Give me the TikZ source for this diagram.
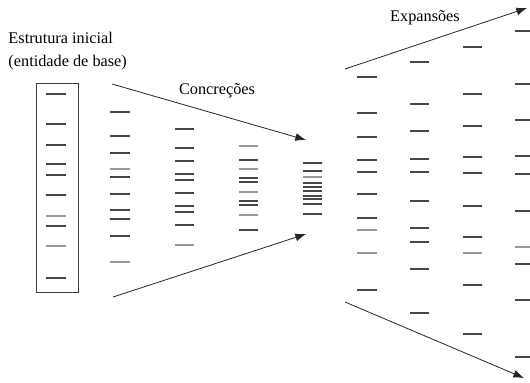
\documentclass[tikz,border=0pt]{standalone}
\usepackage{fontspec}
\setmainfont{Liberation Serif}
\usetikzlibrary{arrows.meta}

\tikzset{every picture/.style={line width=0.75pt}}
\tikzset{
  tick/.style={line width=0.9pt, black!72},
  faint/.style={line width=0.9pt, black!40},
  flow/.style={line width=0.6pt, black!85, -{Latex[length=8pt,width=6pt]}},
  label/.style={font=\fontsize{12.2}{17}\selectfont, inner sep=0pt, align=left}
}

\begin{document}
\begin{tikzpicture}[x=0.75pt,y=0.75pt,yscale=-1,xscale=1]
\useasboundingbox (0,0) rectangle (530,382);
\clip (0,0) rectangle (530,382);

% Text Node
\node [label, anchor=west] (initial) at (8,51) {Estrutura inicial\\(entidade de base)};
% Text Node
\node [label] (concr) at (217,91) {Concreções};
% Text Node
\node [label] (expan) at (425,18) {Expansões};

%Shape: Rectangle [id:base]
\draw [line width=0.6pt, black!75] (36,83) rectangle (78,292) ;

%Straight Lines [id:col1]
\foreach \y in {94,124,145,164,175,195,226,278} \draw [tick] (46,\y) -- (66,\y) ;
\foreach \y in {216,246} \draw [faint] (46,\y) -- (66,\y) ;
%Straight Lines [id:col2]
\foreach \y in {112,136,153,177,194,210,219,236} \draw [tick] (110,\y) -- (130,\y) ;
\foreach \y in {169,262} \draw [faint] (110,\y) -- (130,\y) ;
%Straight Lines [id:col3]
\foreach \y in {129,148,161,174,180,193,206,212,225} \draw [tick] (175,\y) -- (194,\y) ;
\foreach \y in {245} \draw [faint] (175,\y) -- (194,\y) ;
%Straight Lines [id:col4]
\foreach \y in {160,178,182,201,205,230} \draw [tick] (239,\y) -- (258,\y) ;
\foreach \y in {146,169,192,215} \draw [faint] (239,\y) -- (258,\y) ;
%Straight Lines [id:col5]
\foreach \y in {163,171,183,187,191,196,199,204,214} \draw [tick] (303,\y) -- (322,\y) ;
\foreach \y in {177} \draw [faint] (303,\y) -- (322,\y) ;

%Straight Lines [id:colA]
\foreach \y in {77,113,137,160,172,194,218,290} \draw [tick] (357,\y) -- (377,\y) ;
\foreach \y in {230,253} \draw [faint] (357,\y) -- (377,\y) ;
%Straight Lines [id:colB]
\foreach \y in {62,104,131,159,172,201,228,242,269,313} \draw [tick] (410,\y) -- (429,\y) ;
%Straight Lines [id:colC]
\foreach \y in {47,94,126,157,173,206,237,285,334} \draw [tick] (463,\y) -- (482,\y) ;
\foreach \y in {253} \draw [faint] (463,\y) -- (482,\y) ;
%Straight Lines [id:colD]
\foreach \y in {31,84,120,156,174,211,264,300,357} \draw [tick] (515,\y) -- (535,\y) ;
\foreach \y in {247} \draw [faint] (515,\y) -- (535,\y) ;

% Connector ends
\coordinate (cinTopS) at (112,84);
\coordinate (cinTopE) at (306,140);
\coordinate (cinBotS) at (113,297);
\coordinate (cinBotE) at (306,234);
\coordinate (expTopS) at (345,69);
\coordinate (expTopE) at (527,8);
\coordinate (expBotS) at (345,302);
\coordinate (expBotE) at (524,378);

%Straight Lines [id:arrows]
\draw [flow] (cinTopS) -- (cinTopE) ;
\draw [flow] (cinBotS) -- (cinBotE) ;
\draw [flow] (expTopS) -- (expTopE) ;
\draw [flow] (expBotS) -- (expBotE) ;

\end{tikzpicture}
\end{document}
